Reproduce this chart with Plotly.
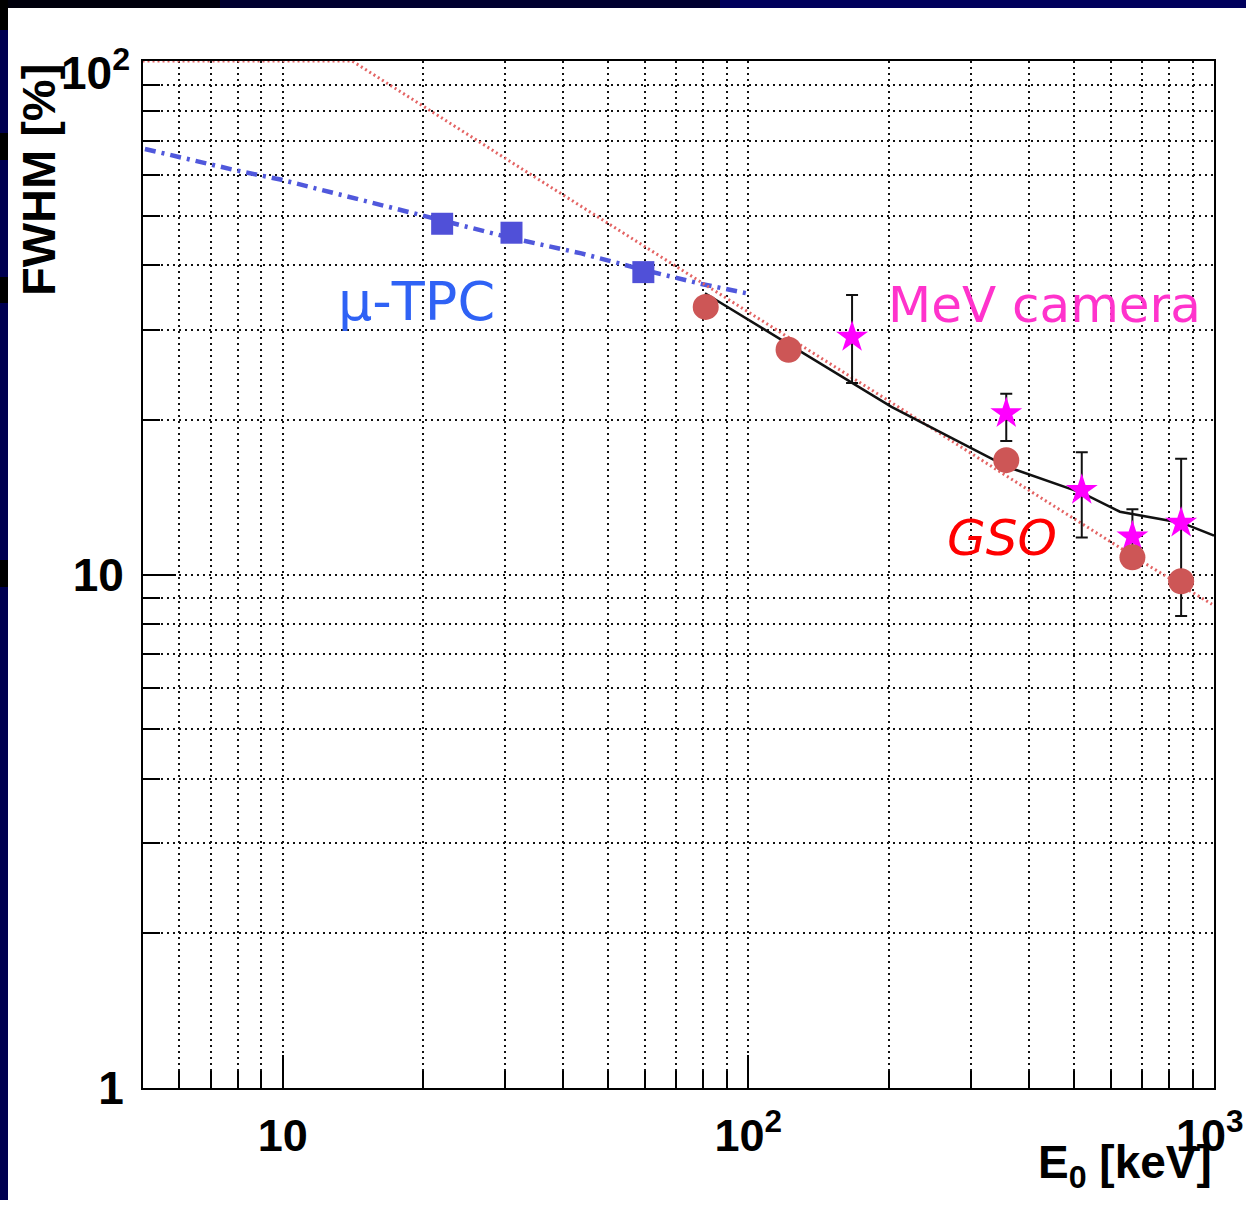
import plotly.graph_objects as go

# ---------------- data ----------------
tpc_E = [22.0, 31.0, 59.5]
tpc_fwhm = [48.2, 46.3, 38.8]

tpc_curve_E = [5.06, 7.9, 9.95, 14.8, 22.0, 31.0, 43.8, 59.5, 79.3, 99.0]
tpc_curve_fwhm = [67.4, 61.3, 58.7, 53.5, 48.8, 45.2, 42.2, 39.2, 36.8, 35.3]

gso_E = [81.0, 122.0, 358.0, 668.0, 850.0]
gso_fwhm = [33.2, 27.4, 16.7, 10.8, 9.7]

gso_fit_E = [5.0, 14.1, 30.0, 60.0, 100.0, 200.0, 400.0, 700.0, 990.0]
gso_fit_fwhm = [100.0, 100.0, 64.7, 43.5, 32.4, 21.8, 14.6, 10.6, 8.75]

mev_E = [167.0, 358.0, 520.0, 668.0, 850.0]
mev_fwhm = [29.0, 20.6, 14.6, 11.85, 12.6]
mev_err_plus = [6.0, 1.9, 2.7, 1.55, 4.2]
mev_err_minus = [5.4, 2.4, 2.8, 1.35, 4.3]

mev_line_E = [80.7, 203.0, 360.0, 522.0, 628.0, 854.0, 1000.0]
mev_line_fwhm = [35.3, 21.2, 16.2, 14.4, 13.25, 12.6, 11.9]

x_major = [10, 100, 1000]
x_major_text = ["10", "10<sup>2</sup>", ""]   # 10^3 label drawn as an annotation (kept inside the page)
x_last_label = "10<sup>3</sup>"
y_major = [1, 10, 100]
y_major_text = ["1", "10", ""]               # 10^2 label drawn as an annotation (ROOT-like offset)
y_last_label = "10<sup>2</sup>"

# ---------------- geometry ----------------
W, H = 1246, 1200
L, R, T, B = 143, 32, 61, 112
PW, PH = W - L - R, H - T - B
BOTTOM = H - B  # pixel row of the x axis


def px(x):
    return (x - L) / PW


def py(y):
    return (BOTTOM - y) / PH


x_minor = [m * d for d in (1, 10, 100) for m in range(2, 10) if 5 < m * d < 1000 and m * d not in x_major]
y_minor = [m * d for d in (1, 10) for m in range(2, 10)]

fig = go.Figure()

fig.add_trace(go.Scatter(x=tpc_curve_E, y=tpc_curve_fwhm, mode="lines",
                         line=dict(color="#5058dc", width=4.5, dash="11px,6px,3px,6px"),
                         hoverinfo="skip"))
fig.add_trace(go.Scatter(x=gso_fit_E, y=gso_fit_fwhm, mode="lines",
                         line=dict(color="#e46464", width=3, dash="2px,3px"),
                         hoverinfo="skip"))
fig.add_trace(go.Scatter(x=mev_line_E, y=mev_line_fwhm, mode="lines",
                         line=dict(color="#111111", width=2.5)))
fig.add_trace(go.Scatter(x=tpc_E, y=tpc_fwhm, mode="markers",
                         marker=dict(symbol="square", size=22, color="#5050d8")))
fig.add_trace(go.Scatter(x=mev_E, y=mev_fwhm, mode="markers",
                         marker=dict(symbol="star", size=24, color="#ff00ff"),
                         error_y=dict(type="data", array=mev_err_plus, arrayminus=mev_err_minus,
                                      color="#111111", thickness=2, width=6)))
fig.add_trace(go.Scatter(x=gso_E, y=gso_fwhm, mode="markers",
                         marker=dict(symbol="circle", size=26, color="#cd5656")))

grid = dict(showgrid=True, gridcolor="#111111", gridwidth=1.5, griddash="2px,4px")
tick_font = dict(family="Liberation Sans", size=45, color="black", weight="bold")

fig.update_xaxes(type="log", range=[0.7, 3.0], tickmode="array", tickvals=x_major,
                 ticktext=x_major_text, ticks="inside", ticklen=33, tickwidth=2, tickcolor="black",
                 showline=True, linecolor="black", linewidth=2, mirror=True,
                 tickfont=tick_font, ticklabelstandoff=7, zeroline=False,
                 minor=dict(tickmode="array", tickvals=x_minor, ticks="inside", ticklen=17,
                            tickwidth=2, tickcolor="black", **grid),
                 **grid)
fig.update_yaxes(type="log", range=[0, 2], tickmode="array", tickvals=y_major,
                 ticktext=y_major_text, ticks="inside", ticklen=33, tickwidth=2, tickcolor="black",
                 showline=True, linecolor="black", linewidth=2, mirror=True,
                 tickfont=dict(tick_font, size=46), ticklabelstandoff=8, zeroline=False,
                 minor=dict(tickmode="array", tickvals=y_minor, ticks="inside", ticklen=17,
                            tickwidth=2, tickcolor="black", **grid),
                 **grid)

shapes = [
    dict(type="rect", xref="paper", yref="paper", x0=px(0), x1=px(8), y0=py(H), y1=py(0),
         fillcolor="#000050", line=dict(width=0), layer="above"),
    dict(type="rect", xref="paper", yref="paper", x0=px(0), x1=px(220), y0=py(8), y1=py(0),
         fillcolor="#00000c", line=dict(width=0), layer="above"),
    dict(type="rect", xref="paper", yref="paper", x0=px(220), x1=px(720), y0=py(8), y1=py(0),
         fillcolor="#000030", line=dict(width=0), layer="above"),
    dict(type="rect", xref="paper", yref="paper", x0=px(720), x1=px(W), y0=py(8), y1=py(0),
         fillcolor="#00005c", line=dict(width=0), layer="above"),
]
for y0, y1 in [(0, 30), (133, 160), (277, 303), (560, 587)]:
    shapes.append(dict(type="rect", xref="paper", yref="paper", x0=px(0), x1=px(8),
                       y0=py(y1), y1=py(y0), fillcolor="#000000", line=dict(width=0), layer="above"))

annotations = [
    dict(text="μ-TPC", x=px(416), y=py(301), xref="paper", yref="paper", showarrow=False,
         xanchor="center", yanchor="middle",
         font=dict(family="DejaVu Sans", size=54, color="#2f62f5")),
    dict(text="MeV camera", x=px(1044), y=py(305), xref="paper", yref="paper", showarrow=False,
         xanchor="center", yanchor="middle",
         font=dict(family="DejaVu Sans", size=50, color="#ff33cc")),
    dict(text="GSO", x=px(1002), y=py(538), xref="paper", yref="paper", showarrow=False,
         xanchor="center", yanchor="middle",
         font=dict(family="DejaVu Sans", size=50, color="#ff0000", style="italic")),
    dict(text="FWHM [%]", x=px(38), y=py(180), xref="paper", yref="paper", showarrow=False,
         xanchor="center", yanchor="middle", textangle=-90,
         font=dict(family="Liberation Sans", size=47, color="black", weight="bold")),
    dict(text="E<sub>0</sub> [keV]", x=px(1214), y=py(1165), xref="paper", yref="paper",
         showarrow=False, xanchor="right", yanchor="middle",
         font=dict(family="Liberation Sans", size=46, color="black", weight="bold")),
    dict(text=x_last_label, x=px(1245), y=py(1132), xref="paper", yref="paper",
         showarrow=False, xanchor="right", yanchor="middle", borderpad=0,
         font=tick_font),
    dict(text=y_last_label, x=px(131), y=py(70), xref="paper", yref="paper",
         showarrow=False, xanchor="right", yanchor="middle", borderpad=0,
         font=dict(tick_font, size=46)),
]

fig.update_layout(width=W, height=H, margin=dict(l=L, r=R, t=T, b=B),
                  paper_bgcolor="white", plot_bgcolor="white", showlegend=False,
                  shapes=shapes, annotations=annotations)

fig.write_html("out.html", config={"responsive": False})
